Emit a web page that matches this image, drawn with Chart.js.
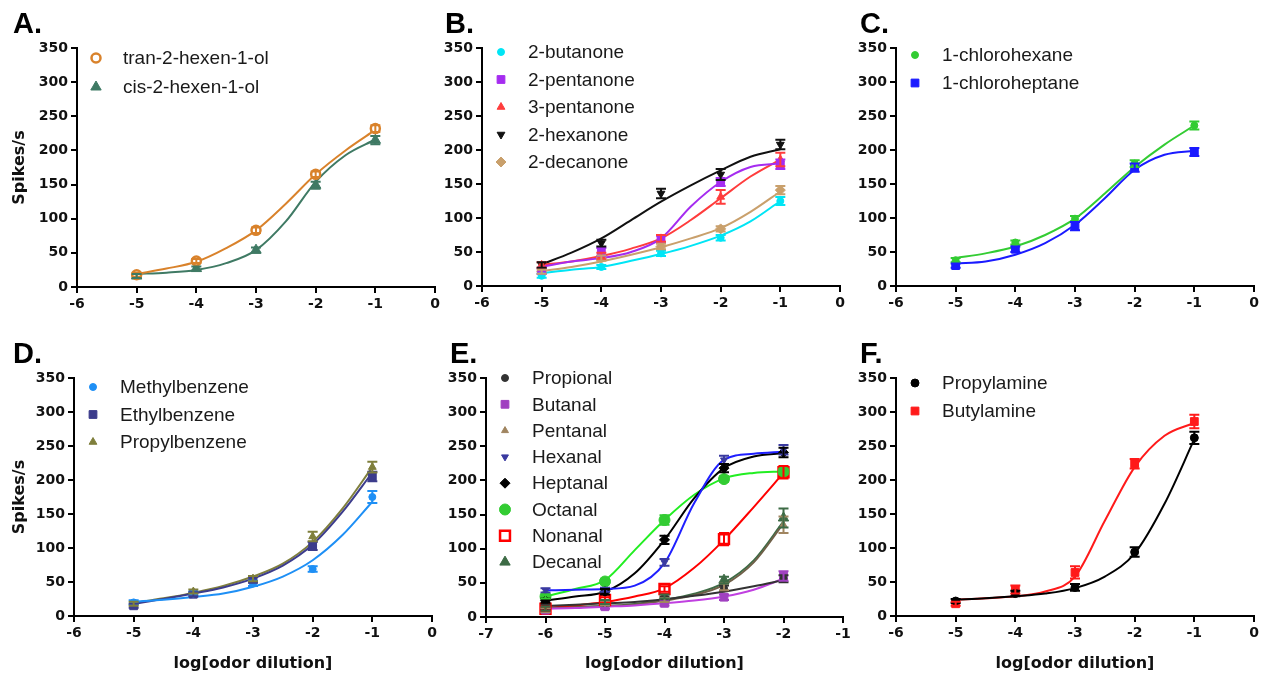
<!DOCTYPE html>
<html>
<head>
<meta charset="utf-8">
<script src="https://cdn.jsdelivr.net/npm/chart.js@4.4.1/dist/chart.umd.min.js"></script>
<style>
   body { margin: 0; background: #fff; }
   #page { position: relative; width: 1272px; height: 677px; overflow: hidden; background: #fff; }
   .panel { position: absolute; overflow: hidden; }
</style>
</head>
<body>
<div id="page">
   <div class="panel" style="left:0;top:0;width:445px;height:335px"><canvas id="cA" width="445" height="335"></canvas></div>
   <div class="panel" style="left:430px;top:0;width:420px;height:335px"><canvas id="cB" width="420" height="335"></canvas></div>
   <div class="panel" style="left:850px;top:0;width:422px;height:335px"><canvas id="cC" width="422" height="335"></canvas></div>
   <div class="panel" style="left:0;top:330px;width:445px;height:347px"><canvas id="cD" width="445" height="347"></canvas></div>
   <div class="panel" style="left:430px;top:330px;width:420px;height:347px"><canvas id="cE" width="430" height="347"></canvas></div>
   <div class="panel" style="left:850px;top:330px;width:422px;height:347px"><canvas id="cF" width="422" height="347"></canvas></div>
</div>
<script>
// log[odor dilution] doses of the measured points
const doses = [-5, -4, -3, -2, -1];
const dosesE = [-6, -5, -4, -3, -2];
const fitDoses = [-5, -4.5, -4, -3.5, -3, -2.5, -2, -1.5, -1];
const fitDosesE = [-6, -5.5, -5, -4.5, -4, -3.5, -3, -2.5, -2];

// A. alcohols
const namesA = ['tran-2-hexen-1-ol', 'cis-2-hexen-1-ol'];
const meansA = [[18, 38, 83, 165, 232], [16, 27, 54, 149, 215]];
const semA = [[3, 3, 4, 4, 5], [3, 3, 4, 5, 6]];
const fitA = [
   [19, 27, 37, 57, 83, 122, 165, 200, 230],
   [19, 21, 25, 35, 54, 96, 154, 193, 216]
];

// B. ketones
const namesB = ['2-butanone', '2-pentanone', '3-pentanone', '2-hexanone', '2-decanone'];
const meansB = [
   [15, 28, 48, 71, 125],
   [22, 50, 69, 153, 179],
   [31, 44, 70, 131, 186],
   [31, 63, 136, 164, 208],
   [21, 41, 58, 84, 141]
];
const semB = [
   [3, 3, 4, 4, 6],
   [4, 6, 5, 6, 7],
   [4, 5, 5, 10, 10],
   [4, 5, 7, 8, 7],
   [3, 4, 4, 4, 6]
];
const fitB = [
   [19, 24, 28, 37, 47, 59, 74, 95, 125],
   [28, 36, 41, 50, 70, 117, 153, 175, 180],
   [31, 36, 44, 55, 70, 97, 129, 161, 186],
   [32, 49, 70, 97, 124, 148, 170, 190, 201],
   [22, 28, 36, 46, 57, 70, 85, 109, 139]
];

// C. chloroalkanes
const namesC = ['1-chlorohexane', '1-chloroheptane'];
const meansC = [[38, 64, 99, 180, 236], [30, 54, 88, 174, 197]];
const semC = [[3, 3, 4, 5, 6], [3, 4, 6, 6, 6]];
const fitC = [
   [41, 48, 58, 75, 99, 136, 175, 208, 236],
   [33, 36, 46, 63, 90, 129, 171, 193, 199]
];

// D. benzenes
const namesD = ['Methylbenzene', 'Ethylbenzene', 'Propylbenzene'];
const meansD = [[20, 33, 48, 69, 175], [15, 32, 53, 103, 205], [18, 36, 55, 117, 219]];
const semD = [[3, 3, 4, 4, 9], [3, 3, 4, 6, 7], [3, 3, 4, 7, 8]];
const fitD = [
   [21, 24, 28, 33, 43, 58, 82, 119, 168],
   [18, 25, 33, 42, 55, 74, 105, 153, 211],
   [19, 26, 34, 44, 58, 77, 109, 158, 219]
];

// E. aldehydes
const namesE = ['Propional', 'Butanal', 'Pentanal', 'Hexanal', 'Heptanal', 'Octanal', 'Nonanal', 'Decanal'];
const meansE = [
   [15, 20, 27, 42, 56],
   [10, 15, 20, 29, 60],
   [10, 20, 25, 44, 135],
   [39, 40, 80, 230, 245],
   [24, 37, 113, 218, 241],
   [30, 52, 142, 202, 213],
   [12, 25, 41, 114, 212],
   [12, 22, 30, 54, 145]
];
const semE = [
   [3, 3, 3, 4, 5],
   [3, 3, 3, 4, 7],
   [3, 3, 3, 5, 12],
   [3, 3, 5, 6, 7],
   [3, 4, 6, 6, 7],
   [3, 4, 7, 4, 4],
   [3, 4, 4, 9, 9],
   [3, 3, 3, 5, 14]
];
const fitE = [
   [16, 18, 20, 22, 26, 31, 37, 45, 54],
   [12, 13, 15, 17, 20, 24, 30, 40, 56],
   [13, 14, 16, 18, 24, 32, 47, 80, 137],
   [39, 40, 41, 46, 79, 167, 230, 239, 242],
   [24, 30, 37, 64, 113, 174, 218, 235, 240],
   [30, 41, 54, 98, 142, 179, 203, 211, 213],
   [13, 17, 22, 30, 42, 72, 113, 161, 211],
   [13, 15, 16, 19, 25, 34, 50, 83, 140]
];

// F. amines
const namesF = ['Propylamine', 'Butylamine'];
const meansF = [[22, 33, 42, 94, 262], [18, 39, 64, 224, 286]];
const semF = [[3, 4, 5, 7, 9], [3, 6, 9, 7, 10]];
const fitF = [
   [24, 26, 29, 33, 41, 58, 92, 165, 260],
   [24, 26, 29, 36, 58, 140, 219, 265, 284]
];

const tickFont = { family: 'DejaVu Sans', weight: 'bold', size: 14 };
const titleFont = { family: 'DejaVu Sans', weight: 'bold', size: 16 };

const panels = [
   {
      id: 'cA', letter: 'A.', letterX: 13, doses: doses, fitDoses: fitDoses,
      names: namesA, means: meansA, sem: semA, fit: fitA,
      xMin: -6, xMax: 0, yWidth: 77, xHeight: 48, padTop: 48, padRight: 10, yTitle: true, xTitle: false,
      legTop: 10, legGap: 29,
      styles: [
         { color: '#d9822b', shape: 'circle', r: 4.5, fill: '#fff', bw: 2.5 },
         { color: '#3f7a64', shape: 'triangle', r: 6 }
      ]
   },
   {
      id: 'cB', letter: 'B.', letterX: 15, doses: doses, fitDoses: fitDoses,
      names: namesB, means: meansB, sem: semB, fit: fitB,
      xMin: -6, xMax: 0, yWidth: 52, xHeight: 49, padTop: 48, padRight: 10, yTitle: false, xTitle: false,
      legTop: 4, legGap: 27.5,
      styles: [
         { color: '#00e5f5', shape: 'circle', r: 3.5 },
         { color: '#a52cf0', shape: 'rect', r: 5.5 },
         { color: '#ff3c3c', shape: 'triangle', r: 4.5 },
         { color: '#111111', shape: 'triangle', r: 4.5, rot: 180 },
         { color: '#c9a06c', shape: 'rectRot', r: 5 }
      ]
   },
   {
      id: 'cC', letter: 'C.', letterX: 10, doses: doses, fitDoses: fitDoses,
      names: namesC, means: meansC, sem: semC, fit: fitC,
      xMin: -6, xMax: 0, yWidth: 46, xHeight: 49, padTop: 48, padRight: 18, yTitle: false, xTitle: false,
      legTop: 7, legGap: 28,
      styles: [
         { color: '#33cc33', shape: 'circle', r: 3.5 },
         { color: '#1a1aff', shape: 'rect', r: 5.5 }
      ]
   },
   {
      id: 'cD', letter: 'D.', letterX: 13, doses: doses, fitDoses: fitDoses,
      names: namesD, means: meansD, sem: semD, fit: fitD,
      xMin: -6, xMax: 0, yWidth: 74, xHeight: 61, padTop: 48, padRight: 13, yTitle: true, xTitle: true,
      legTop: 9, legGap: 27.5,
      styles: [
         { color: '#1e8ff5', shape: 'circle', r: 3.5 },
         { color: '#3c3c8c', shape: 'rect', r: 5.5 },
         { color: '#7f7f3c', shape: 'triangle', r: 4.5 }
      ]
   },
   {
      id: 'cE', letter: 'E.', letterX: 20, doses: dosesE, fitDoses: fitDosesE,
      names: namesE, means: meansE, sem: semE, fit: fitE,
      xMin: -7, xMax: -1, yWidth: 56, xHeight: 60, padTop: 48, padRight: 17, yTitle: false, xTitle: true,
      legTop: 0, legGap: 26.3,
      styles: [
         { color: '#333333', shape: 'circle', r: 3.5 },
         { color: '#a040c0', line: '#c040e0', shape: 'rect', r: 5.5 },
         { color: '#a08560', line: '#6f6048', shape: 'triangle', r: 4 },
         { color: '#3a3aa0', line: '#1f1fff', shape: 'triangle', r: 4, rot: 180 },
         { color: '#000000', shape: 'rectRot', r: 5 },
         { color: '#33cc33', line: '#22ee22', shape: 'circle', r: 5.5 },
         { color: '#ff0000', shape: 'rect', r: 7, fill: '#fff', bw: 2.5 },
         { color: '#3d6b45', shape: 'triangle', r: 6 }
      ]
   },
   {
      id: 'cF', letter: 'F.', letterX: 10, doses: doses, fitDoses: fitDoses,
      names: namesF, means: meansF, sem: semF, fit: fitF,
      xMin: -6, xMax: 0, yWidth: 46, xHeight: 61, padTop: 48, padRight: 18, yTitle: false, xTitle: true,
      legTop: 5, legGap: 28,
      styles: [
         { color: '#000000', shape: 'circle', r: 4 },
         { color: '#ff1a1a', shape: 'rect', r: 5.5 }
      ]
   }
];

// vertical SEM bars with caps, drawn through the chart scales
const errorBars = {
   id: 'errorBars',
   afterDatasetsDraw(chart) {
      const { ctx, scales: { x, y } } = chart;
      chart.data.datasets.forEach(ds => {
         if (!ds.err) return;
         ctx.save();
         ctx.strokeStyle = ds.pointBorderColor;
         ctx.lineWidth = 2;
         ds.data.forEach((p, j) => {
            const e = ds.err[j];
            const px = x.getPixelForValue(p.x);
            const top = y.getPixelForValue(p.y + e);
            const bot = y.getPixelForValue(p.y - e);
            ctx.beginPath();
            ctx.moveTo(px, top); ctx.lineTo(px, bot);
            ctx.moveTo(px - 5, top); ctx.lineTo(px + 5, top);
            ctx.moveTo(px - 5, bot); ctx.lineTo(px + 5, bot);
            ctx.stroke();
         });
         ctx.restore();
      });
   }
};

// legend inside the plot: marker + name per row
const markerLegend = {
   id: 'markerLegend',
   afterDraw(chart, args, opts) {
      const { ctx, chartArea } = chart;
      chart.data.datasets.filter(ds => ds.err).forEach((ds, i) => {
         const mx = chartArea.left + 19;
         const my = chartArea.top + opts.top + i * opts.gap;
         ctx.save();
         ctx.fillStyle = ds.pointBackgroundColor;
         ctx.strokeStyle = ds.pointBorderColor;
         ctx.lineWidth = ds.pointBorderWidth;
         Chart.helpers.drawPoint(ctx, {
            pointStyle: ds.pointStyle, radius: ds.pointRadius,
            borderWidth: ds.pointBorderWidth, rotation: ds.pointRotation
         }, mx, my);
         ctx.font = '19px "Liberation Sans", Arial, sans-serif';
         ctx.fillStyle = '#1a1a1a';
         ctx.textBaseline = 'middle';
         ctx.fillText(ds.label, chartArea.left + 46, my + 1);
         ctx.restore();
      });
   }
};

const panelLetter = {
   id: 'panelLetter',
   afterDraw(chart, args, opts) {
      const ctx = chart.ctx;
      ctx.save();
      ctx.font = 'bold 29px "Liberation Sans", Arial, sans-serif';
      ctx.fillStyle = '#000';
      ctx.textBaseline = 'alphabetic';
      ctx.fillText(opts.text, opts.x, 33);
      ctx.restore();
   }
};

function buildDatasets(p) {
   // markers first so they are painted above the curves
   const markers = p.names.map((name, i) => {
      const s = p.styles[i];
      return {
         label: name,
         data: p.doses.map((d, j) => ({ x: d, y: p.means[i][j] })),
         err: p.sem[i],
         showLine: false,
         pointStyle: s.shape,
         pointRadius: s.r,
         pointRotation: s.rot || 0,
         pointBackgroundColor: s.fill || s.color,
         pointBorderColor: s.color,
         pointBorderWidth: s.bw || 1
      };
   });
   const curves = p.names.map((name, i) => {
      const s = p.styles[i];
      return {
         label: name + ' fit',
         data: p.fitDoses.map((d, j) => ({ x: d, y: p.fit[i][j] })),
         borderColor: s.line || s.color,
         borderWidth: 2,
         pointRadius: 0,
         cubicInterpolationMode: 'monotone'
      };
   });
   return markers.concat(curves);
}

panels.forEach(p => {
   const ctx = document.getElementById(p.id).getContext('2d');
   new Chart(ctx, {
      type: 'line',
      data: { datasets: buildDatasets(p) },
      plugins: [errorBars, markerLegend, panelLetter],
      options: {
         responsive: false,
         animation: false,
         devicePixelRatio: 1,
         layout: { padding: { left: 0, top: p.padTop, right: p.padRight, bottom: 0 } },
         plugins: {
            legend: { display: false },
            tooltip: { enabled: false },
            markerLegend: { top: p.legTop, gap: p.legGap },
            panelLetter: { text: p.letter, x: p.letterX }
         },
         scales: {
            x: {
               type: 'linear',
               min: p.xMin,
               max: p.xMax,
               ticks: { stepSize: 1, font: tickFont, color: '#111', padding: 3 },
               grid: { display: true, drawOnChartArea: false, color: '#000', lineWidth: 2, tickLength: 6 },
               border: { color: '#000', width: 2 },
               title: {
                  display: p.xTitle, text: 'log[odor dilution]', font: titleFont, color: '#111',
                  padding: { top: 0, bottom: 4 }
               },
               afterFit: s => { s.height = p.xHeight; }
            },
            y: {
               min: 0,
               max: 350,
               ticks: { stepSize: 50, font: tickFont, color: '#111', padding: 3 },
               grid: { display: true, drawOnChartArea: false, color: '#000', lineWidth: 2, tickLength: 6 },
               border: { color: '#000', width: 2 },
               title: {
                  display: p.yTitle, text: 'Spikes/s', font: titleFont, color: '#111',
                  padding: { top: 10, bottom: 0 }
               },
               afterFit: s => { s.width = p.yWidth; }
            }
         }
      }
   });
});
</script>
</body>
</html>
